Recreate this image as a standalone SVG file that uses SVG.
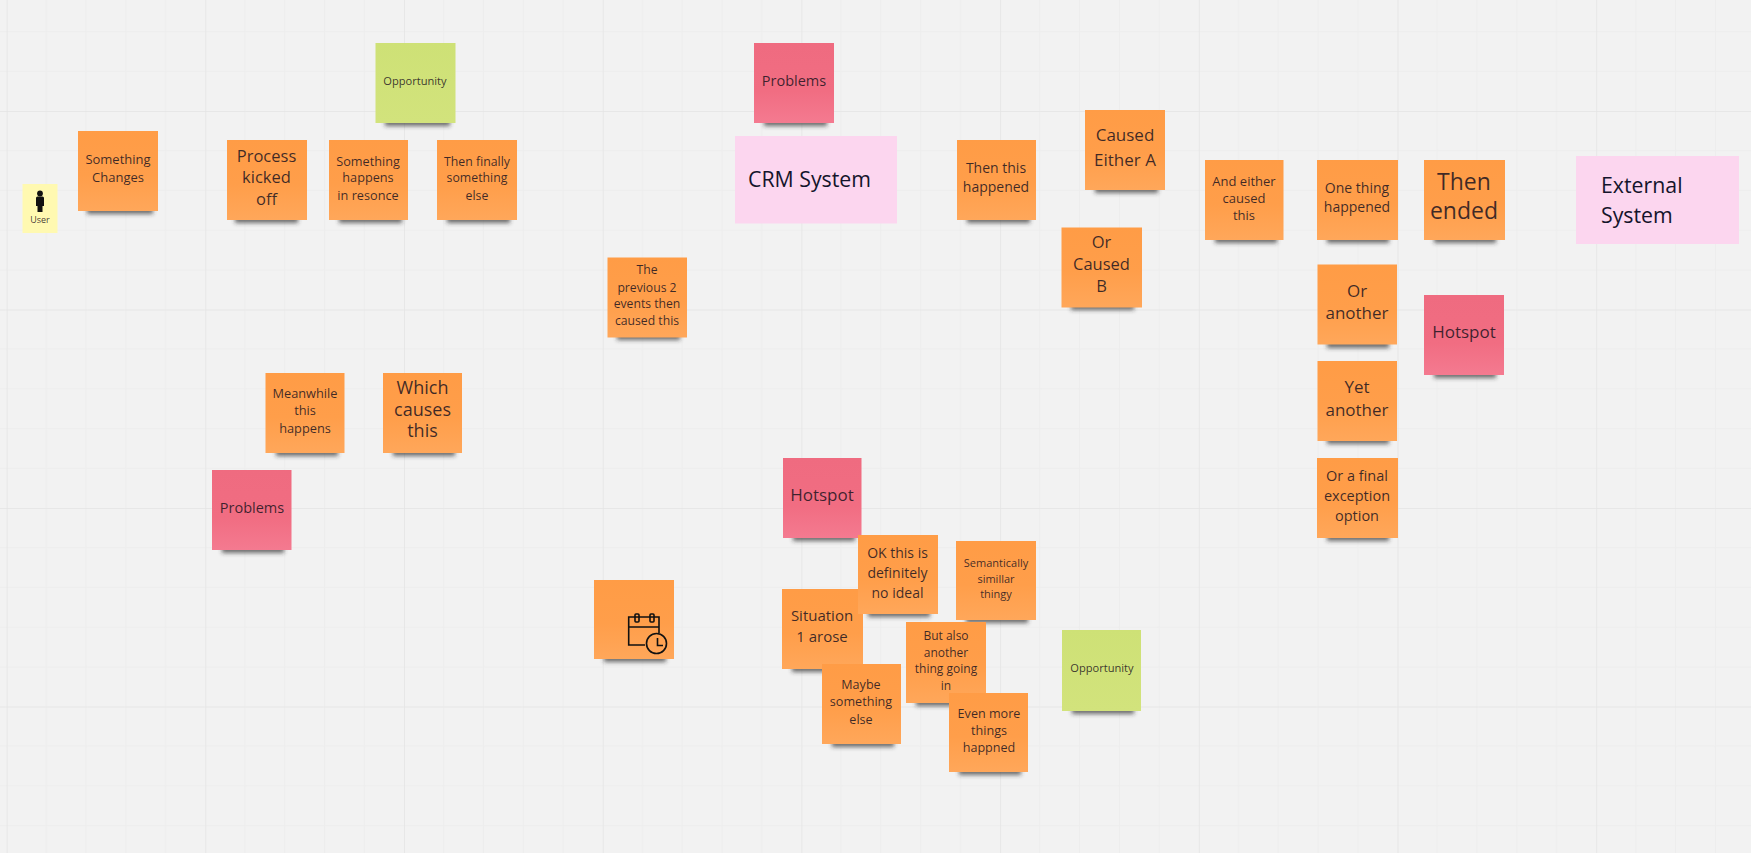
<svg xmlns="http://www.w3.org/2000/svg" width="1751" height="853" viewBox="0 0 1751 853">
<style>
text{font-family:"Open Sans","Noto Sans","Liberation Sans",sans-serif;text-anchor:middle;fill:#1c1420;fill-opacity:.85}
.sh{fill:#333;fill-opacity:.7;filter:url(#blur)}
.o{fill:url(#gO)}.r{fill:url(#gR)}.g{fill:url(#gG)}
.p{fill:#fcd6ef}.y{fill:#fff9b1}
.st{text-anchor:start;font-size:21.300px;fill:#14142b;fill-opacity:1}
.ic{fill:none;stroke:#111;stroke-width:1.6}
</style>
<defs>
<filter id="blur" x="-20%" y="-150%" width="140%" height="400%"><feGaussianBlur stdDeviation="2.200"/></filter>
<linearGradient id="gO" x1="0" y1="0" x2="0" y2="1"><stop offset="0" stop-color="#ff9c46"/><stop offset=".55" stop-color="#ff9e4a"/><stop offset="1" stop-color="#ffa75a"/></linearGradient>
<linearGradient id="gR" x1="0" y1="0" x2="0" y2="1"><stop offset="0" stop-color="#ef6b80"/><stop offset=".6" stop-color="#f16d82"/><stop offset="1" stop-color="#f47a90"/></linearGradient>
<linearGradient id="gG" x1="0" y1="0" x2="0" y2="1"><stop offset="0" stop-color="#cee176"/><stop offset="1" stop-color="#d2e37c"/></linearGradient>
<pattern id="grid" patternUnits="userSpaceOnUse" x="6.600" y="111" width="198.700" height="198.500">
<path d="M39.740 0V198.500M79.480 0V198.500M119.220 0V198.500M158.960 0V198.500M0 39.700H198.700M0 79.400H198.700M0 119.100H198.700M0 158.800H198.700" fill="none" stroke="#ededed" stroke-width="1"/>
<path d="M0 0V198.500M0 0H198.700" fill="none" stroke="#e4e4e4" stroke-width="1.500"/>
</pattern>
</defs>
<rect width="1751" height="853" fill="#f2f2f2"/>
<rect width="1751" height="853" fill="url(#grid)"/>
<g id="connectors"/>

<g id="user"><rect class="y" x="22.500" y="184" width="35" height="49"/>
<circle cx="40" cy="193.500" r="2.900" fill="#111"/><path d="M36 198Q36 196.500 37.500 196.500H42.500Q44 196.500 44 198V206H42.500V212H37.500V206H36Z" fill="#111"/>
<text x="40" y="223" font-size="9">User</text></g>

<g id="something-changes"><rect class="sh" x="87" y="207" width="66" height="7"/><rect class="o" x="78" y="131" width="80" height="80"/>
<text font-size="13"><tspan x="118" y="164">Something</tspan><tspan x="118" y="182">Changes</tspan></text></g>

<g id="opportunity-top"><rect class="sh" x="385" y="119" width="65" height="7"/><rect class="g" x="375.500" y="43" width="80" height="80"/>
<text x="415" y="85" font-size="11.100">Opportunity</text></g>

<g id="process-kicked-off"><rect class="sh" x="235" y="216" width="63" height="7"/><rect class="o" x="227" y="140" width="80" height="80"/>
<text font-size="16.500"><tspan x="266.500" y="162">Process</tspan><tspan x="266.500" y="183">kicked</tspan><tspan x="266.500" y="205">off</tspan></text></g>

<g id="something-happens"><rect class="sh" x="339" y="216" width="63" height="7"/><rect class="o" x="329" y="140" width="79" height="80"/>
<text font-size="12.700"><tspan x="368" y="166">Something</tspan><tspan x="368" y="182">happens</tspan><tspan x="368" y="200">in resonce</tspan></text></g>

<g id="then-finally"><rect class="sh" x="447" y="216" width="63" height="7"/><rect class="o" x="437" y="140" width="80" height="80"/>
<text font-size="12.300"><tspan x="477" y="166">Then finally</tspan><tspan x="477" y="182">something</tspan><tspan x="477" y="200">else</tspan></text></g>

<g id="previous-events"><rect class="sh" x="617" y="333" width="63" height="7"/><rect class="o" x="607.500" y="257.500" width="79.500" height="80"/>
<text font-size="12.200"><tspan x="647" y="274">The</tspan><tspan x="647" y="292">previous 2</tspan><tspan x="647" y="308">events then</tspan><tspan x="647" y="325">caused this</tspan></text></g>

<g id="problems-top"><rect class="sh" x="764" y="119" width="63" height="7"/><rect class="r" x="754" y="43" width="80" height="80"/>
<text x="794" y="86" font-size="14.500">Problems</text></g>

<g id="crm-system"><rect class="p" x="735" y="136" width="162" height="87.500"/>
<text class="st" x="748" y="187">CRM System</text></g>

<g id="then-this-happened"><rect class="sh" x="967" y="216" width="63" height="7"/><rect class="o" x="957" y="140" width="79" height="80"/>
<text font-size="14"><tspan x="996" y="173">Then this</tspan><tspan x="996" y="192">happened</tspan></text></g>

<g id="caused-either-a"><rect class="sh" x="1095" y="186" width="63" height="7"/><rect class="o" x="1085" y="110" width="80" height="80"/>
<text font-size="17"><tspan x="1125" y="141">Caused</tspan><tspan x="1125" y="166">Either A</tspan></text></g>

<g id="or-caused-b"><rect class="sh" x="1071" y="303" width="63" height="7"/><rect class="o" x="1061.500" y="227.500" width="80.500" height="80"/>
<text font-size="16.500"><tspan x="1101.500" y="248">Or</tspan><tspan x="1101.500" y="270">Caused</tspan><tspan x="1101.500" y="292">B</tspan></text></g>

<g id="and-either"><rect class="sh" x="1215" y="236" width="62" height="7"/><rect class="o" x="1205" y="160" width="78.500" height="80"/>
<text font-size="13"><tspan x="1244" y="186">And either</tspan><tspan x="1244" y="203">caused</tspan><tspan x="1244" y="220">this</tspan></text></g>

<g id="one-thing"><rect class="sh" x="1327" y="236" width="62" height="7"/><rect class="o" x="1317" y="160" width="81" height="80"/>
<text font-size="14"><tspan x="1357" y="193">One thing</tspan><tspan x="1357" y="212">happened</tspan></text></g>

<g id="then-ended"><rect class="sh" x="1434" y="236" width="62" height="7"/><rect class="o" x="1424" y="160" width="81" height="80"/>
<text font-size="23"><tspan x="1464" y="190">Then</tspan><tspan x="1464" y="219">ended</tspan></text></g>

<g id="external-system"><rect class="p" x="1576" y="156" width="163" height="88"/>
<text class="st"><tspan x="1601" y="193">External</tspan><tspan x="1601" y="223">System</tspan></text></g>

<g id="or-another"><rect class="sh" x="1327" y="341" width="62" height="7"/><rect class="o" x="1317.500" y="264.500" width="79.500" height="80"/>
<text font-size="17"><tspan x="1357" y="297">Or</tspan><tspan x="1357" y="319">another</tspan></text></g>

<g id="hotspot-right"><rect class="sh" x="1434" y="371" width="62" height="7"/><rect class="r" x="1424" y="295" width="80" height="80"/>
<text x="1464" y="338" font-size="17">Hotspot</text></g>

<g id="yet-another"><rect class="sh" x="1327" y="437" width="62" height="7"/><rect class="o" x="1317.500" y="361" width="79.500" height="80"/>
<text font-size="17"><tspan x="1357" y="393">Yet</tspan><tspan x="1357" y="416">another</tspan></text></g>

<g id="final-exception"><rect class="sh" x="1327" y="534" width="62" height="7"/><rect class="o" x="1317" y="458" width="81" height="80"/>
<text font-size="14.500"><tspan x="1357" y="481">Or a final</tspan><tspan x="1357" y="501">exception</tspan><tspan x="1357" y="521">option</tspan></text></g>

<g id="meanwhile"><rect class="sh" x="276" y="449" width="62" height="7"/><rect class="o" x="265.500" y="373" width="79" height="80"/>
<text font-size="12.800"><tspan x="305" y="398">Meanwhile</tspan><tspan x="305" y="415">this</tspan><tspan x="305" y="433">happens</tspan></text></g>

<g id="which-causes"><rect class="sh" x="393" y="449" width="62" height="7"/><rect class="o" x="383" y="373" width="79" height="80"/>
<text font-size="18"><tspan x="422.500" y="394">Which</tspan><tspan x="422.500" y="416">causes</tspan><tspan x="422.500" y="437">this</tspan></text></g>

<g id="problems-left"><rect class="sh" x="222" y="546" width="62" height="7"/><rect class="r" x="212" y="470" width="79.500" height="80"/>
<text x="252" y="513" font-size="14.500">Problems</text></g>

<g id="calendar"><rect class="sh" x="604" y="655" width="62" height="7"/><rect class="o" x="594" y="580" width="80" height="79"/>
<path class="ic" d="M645 645H628.700V617H659V633M628.700 627H659"/>
<rect class="ic" x="635" y="614" width="4" height="8" rx="1"/><rect class="ic" x="650" y="614" width="4" height="8" rx="1"/>
<circle class="ic" cx="656.500" cy="643.500" r="10"/><path class="ic" d="M657.500 638V645.500H663"/></g>

<g id="hotspot-center"><rect class="sh" x="793" y="534" width="62" height="7"/><rect class="r" x="783" y="458" width="78.500" height="80"/>
<text x="822" y="501" font-size="17">Hotspot</text></g>

<g id="situation"><rect class="sh" x="792" y="665" width="62" height="7"/><rect class="o" x="782" y="589" width="81" height="80"/>
<text font-size="15"><tspan x="822" y="621">Situation</tspan><tspan x="822" y="642">1 arose</tspan></text></g>

<g id="ok-this"><rect class="sh" x="868" y="610" width="62" height="7"/><rect class="o" x="858" y="535" width="80" height="79"/>
<text font-size="14"><tspan x="897.500" y="558">OK this is</tspan><tspan x="897.500" y="578">definitely</tspan><tspan x="897.500" y="598">no ideal</tspan></text></g>

<g id="semantically"><rect class="sh" x="966" y="616" width="62" height="7"/><rect class="o" x="956" y="541" width="80" height="79"/>
<text font-size="11"><tspan x="996" y="567">Semantically</tspan><tspan x="996" y="583">simillar</tspan><tspan x="996" y="598">thingy</tspan></text></g>

<g id="but-also"><rect class="sh" x="916" y="699" width="62" height="7"/><rect class="o" x="906" y="622" width="80" height="81"/>
<text font-size="12"><tspan x="946" y="640">But also</tspan><tspan x="946" y="657">another</tspan><tspan x="946" y="673">thing going</tspan><tspan x="946" y="690">in</tspan></text></g>

<g id="maybe"><rect class="sh" x="832" y="740" width="62" height="7"/><rect class="o" x="822" y="664" width="79" height="80"/>
<text font-size="12.600"><tspan x="861" y="689">Maybe</tspan><tspan x="861" y="706">something</tspan><tspan x="861" y="724">else</tspan></text></g>

<g id="even-more"><rect class="sh" x="959" y="768" width="62" height="7"/><rect class="o" x="949" y="693" width="79" height="79"/>
<text font-size="12.600"><tspan x="989" y="718">Even more</tspan><tspan x="989" y="735">things</tspan><tspan x="989" y="752">happned</tspan></text></g>

<g id="opportunity-bottom"><rect class="sh" x="1072" y="707" width="62" height="7"/><rect class="g" x="1062" y="630" width="79" height="81"/>
<text x="1102" y="672" font-size="11.100">Opportunity</text></g>
</svg>
